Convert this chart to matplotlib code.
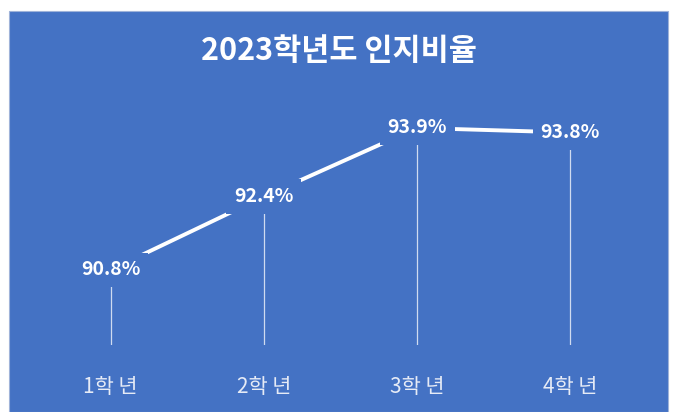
import matplotlib.pyplot as plt
from matplotlib.patches import Rectangle

plt.rcParams['font.family'] = ['Noto Sans CJK KR', 'DejaVu Sans']

# data
grades = ["1학 년", "2학 년", "3학 년", "4학 년"]
rates = [90.8, 92.4, 93.9, 93.8]
title = "2023학년도 인지비율"

blue = "#4472c4"
W, H = 673, 412

fig = plt.figure(figsize=(W / 100, H / 100), dpi=100, facecolor="white")
# blue chart area with white margin at top/left/right
fig.patches.append(Rectangle((9 / W, 0), (668 - 9) / W, (H - 11) / H,
                             transform=fig.transFigure, facecolor=blue,
                             edgecolor="#9fb3d9", linewidth=0.8, zorder=-5))

# plot area in pixels
ax = fig.add_axes([34 / W, 67 / H, 613 / W, 245 / H])
ax.set_zorder(2)
ax.set_facecolor("none")
x = list(range(len(grades)))
ax.set_xlim(-0.5, 3.5)
ax.set_ylim(89.16, 94.51)

# drop lines
ax.vlines(x, 89.16, rates, color="#d0dbf0", linewidth=0.9, zorder=1)
# main line
ax.plot(x, rates, color="white", linewidth=2.8, solid_capstyle="butt", zorder=2)

for xi, v in zip(x, rates):
    ax.text(xi, v, f"{v}%", ha="center", va="center", color="white",
            fontsize=14, fontweight="bold", zorder=3,
            bbox=dict(boxstyle="square,pad=0.4", facecolor=blue, edgecolor="none"))

ax.set_xticks(x)
ax.set_xticklabels(grades, fontsize=15, color="#e6ebf6")
ax.tick_params(axis="x", length=0, pad=22)
ax.set_yticks([])
for s in ax.spines.values():
    s.set_visible(False)

fig.text(339 / W, 1 - 51 / H, title, ha="center", va="center", color="white",
         fontsize=22, fontweight="bold", zorder=3)

fig.savefig("out.png", dpi=100, facecolor="white")
